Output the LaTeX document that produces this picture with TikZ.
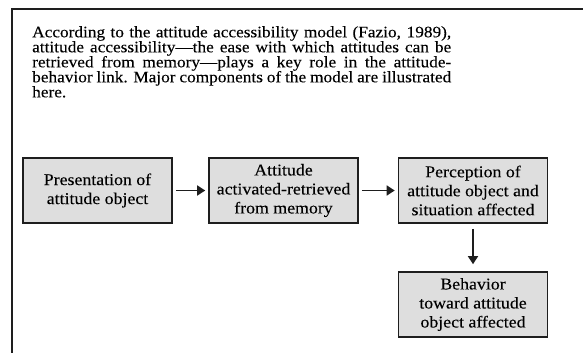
\documentclass[tikz,border=0pt]{standalone}
\usepackage{fontspec}
\setmainfont{Liberation Serif}[FakeStretch=1.08,FakeBold=0.12]
\usetikzlibrary{arrows.meta}
\definecolor{boxfill}{HTML}{DEDEDE}
\definecolor{ink}{HTML}{1E1E1E}
\tikzset{
  stagebox/.style={draw=ink, line width=1.6pt, fill=boxfill, minimum width=149pt, minimum height=65pt,
    inner sep=0pt, align=center, font=\fontsize{16.5}{19}\selectfont},
  flowarrow/.style={draw=ink, line width=1.6pt, -{Triangle[length=8pt,width=10pt]}},
  framestroke/.style={draw=ink, line width=2pt},
}
\begin{document}
\begin{tikzpicture}[x=1pt,y=-1pt]
\useasboundingbox (0,0) rectangle (583,353);
\coordinate (ftop) at (583,9);
\coordinate (fcorner) at (12,9);
\coordinate (fbottom) at (12,353);
\draw[framestroke] (ftop) -- (fcorner) -- (fbottom);
\node[anchor=north west, inner sep=0pt, align=left, font=\fontsize{16}{15}\selectfont] (intro) at (32,26)
 {\makebox[419pt][s]{According to the attitude accessibility model (Fazio, 1989),}\\
  \makebox[419pt][s]{attitude accessibility—the ease with which attitudes can be}\\
  \makebox[419pt][s]{retrieved from memory—plays a key role in the attitude-}\\
  \makebox[419pt][s]{behavior link. Major components of the model are illustrated}\\
  here.};
\node[stagebox] (b1) at (97.5,190.5) {Presentation of\\attitude object};
\node[stagebox] (b2) at (283.5,190.5) {Attitude\\activated-retrieved\\from memory};
\node[stagebox] (b3) at (473,190.5) {Perception of\\attitude object and\\situation affected};
\node[stagebox] (b4) at (473,304.5) {Behavior\\toward attitude\\object affected};
\draw[flowarrow, shorten <=3pt, shorten >=3pt] (b1) -- (b2);
\draw[flowarrow, shorten <=3pt, shorten >=3pt] (b2) -- (b3);
\draw[flowarrow, shorten <=5pt, shorten >=7pt] (b3) -- (b4);
\end{tikzpicture}
\end{document}
